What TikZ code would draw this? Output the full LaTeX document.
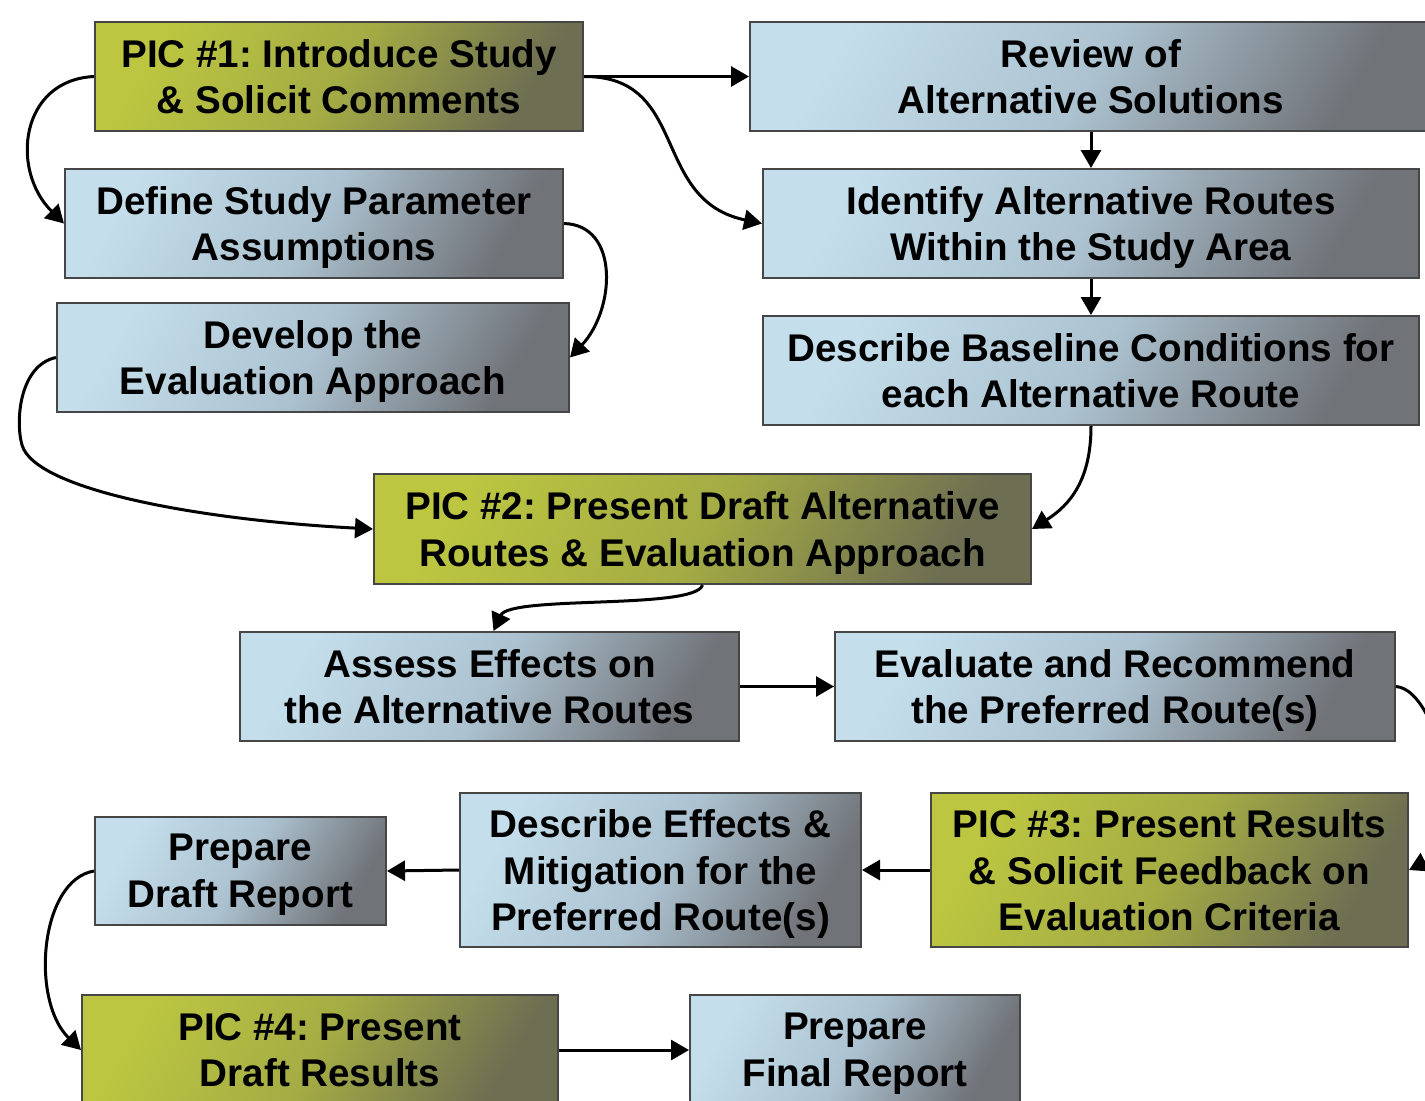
\documentclass[tikz,border=0pt]{standalone}
\usepackage{fontspec}
\setmainfont{Liberation Sans}
\usetikzlibrary{arrows.meta}
\frenchspacing
\definecolor{bA}{RGB}{196,222,236}
\definecolor{bB}{RGB}{172,194,208}
\definecolor{bC}{RGB}{112,115,120}
\definecolor{gA}{RGB}{188,198,64}
\definecolor{gB}{RGB}{164,172,68}
\definecolor{gC}{RGB}{110,110,82}
\definecolor{boxline}{RGB}{70,70,70}
\pgfdeclarehorizontalshading{blueshade}{100bp}{color(0bp)=(bA); color(25bp)=(bA); color(50bp)=(bB); color(75bp)=(bC); color(100bp)=(bC)}
\pgfdeclarehorizontalshading{greenshade}{100bp}{color(0bp)=(gA); color(25bp)=(gA); color(50bp)=(gB); color(75bp)=(gC); color(100bp)=(gC)}
\tikzset{
  box/.style={draw=boxline, line width=1pt, align=center, inner sep=0pt, text depth=0pt,
    font=\frenchspacing\bfseries\fontsize{19.3}{23.3}\selectfont, text=black},
  bluebox/.style={box, shading=blueshade, shading angle=-30},
  greenbox/.style={box, shading=greenshade, shading angle=-30},
  conn/.style={line width=1.5pt, -{Triangle[length=9pt,width=10pt]}}
}
\begin{document}
\begin{tikzpicture}[x=0.5pt,y=-0.5pt]
\clip (0,0) rectangle (1425,1100);
\fill[white] (0,0) rectangle (1425,1100);
% boxes
\node[greenbox, minimum width=244pt, minimum height=54.5pt] (pic1) at (339,76.5) {PIC \#1: Introduce Study\\\& Solicit Comments};
\node[bluebox, minimum width=341pt, minimum height=54.5pt] (review) at (1091,76.5) {Review of\\Alternative Solutions};
\node[bluebox, minimum width=249pt, minimum height=54.5pt] (define) at (314,223.5) {Define Study Parameter\\Assumptions};
\node[bluebox, minimum width=328pt, minimum height=54.5pt] (identify) at (1091,223.5) {Identify Alternative Routes\\Within the Study Area};
\node[bluebox, minimum width=256pt, minimum height=54.5pt] (develop) at (313,357.5) {Develop the\\Evaluation Approach};
\node[bluebox, minimum width=328pt, minimum height=54.5pt] (baseline) at (1091,370.5) {Describe Baseline Conditions for\\each Alternative Route};
\node[greenbox, minimum width=328.5pt, minimum height=55pt] (pic2) at (702.5,529) {PIC \#2: Present Draft Alternative\\Routes \& Evaluation Approach};
\node[bluebox, minimum width=249.5pt, minimum height=54.5pt] (assess) at (489.5,686.5) {Assess Effects on\\the Alternative Routes};
\node[bluebox, minimum width=280pt, minimum height=54.5pt] (evaluate) at (1115,686.5) {Evaluate and Recommend\\the Preferred Route(s)};
\node[greenbox, minimum width=238.5pt, minimum height=77pt] (pic3) at (1169.5,870) {PIC \#3: Present Results\\\& Solicit Feedback on\\Evaluation Criteria};
\node[bluebox, minimum width=200.5pt, minimum height=77pt] (desc) at (660.5,870) {Describe Effects \&\\Mitigation for the\\Preferred Route(s)};
\node[bluebox, minimum width=145.5pt, minimum height=54pt] (draft) at (240.5,871) {Prepare\\Draft Report};
\node[greenbox, minimum width=238pt, minimum height=55pt] (pic4) at (320,1050) {PIC \#4: Present\\Draft Results};
\node[bluebox, minimum width=165pt, minimum height=55pt] (final) at (855,1050) {Prepare\\Final Report};
% connectors
\draw[conn] (pic1.east) -- (review.west);
\draw[conn] (pic1.east) .. controls (690,76) and (650,200) .. (identify.west);
\draw[conn] (pic1.west) .. controls (20,80) and (10,170) .. (define.west);
\draw[conn] (define.east) .. controls (620,225) and (615,310) .. (develop.east);
\draw[conn] (review.south) -- (identify.north);
\draw[conn] (identify.south) -- (baseline.north);
\draw[conn] (baseline.south) .. controls (1091,480) and (1070,505) .. (pic2.east);
\draw[conn] (develop.west) .. controls (20,365) and (15,420) .. (22,445) .. controls (35,490) and (200,520) .. (pic2.west);
\draw[conn] (pic2.south) .. controls (695,610) and (510,595) .. ([xshift=2pt]assess.north);
\draw[conn] (assess.east) -- (evaluate.west);
\draw[conn] (evaluate.east) .. controls (1440,690) and (1470,840) .. (pic3.east);
\draw[conn] (pic3.west) -- (desc.east);
\draw[conn] (desc.west) -- (draft.east);
\draw[conn] (draft.west) .. controls (40,880) and (30,1000) .. (pic4.west);
\draw[conn] (pic4.east) -- (final.west);
\end{tikzpicture}
\end{document}
